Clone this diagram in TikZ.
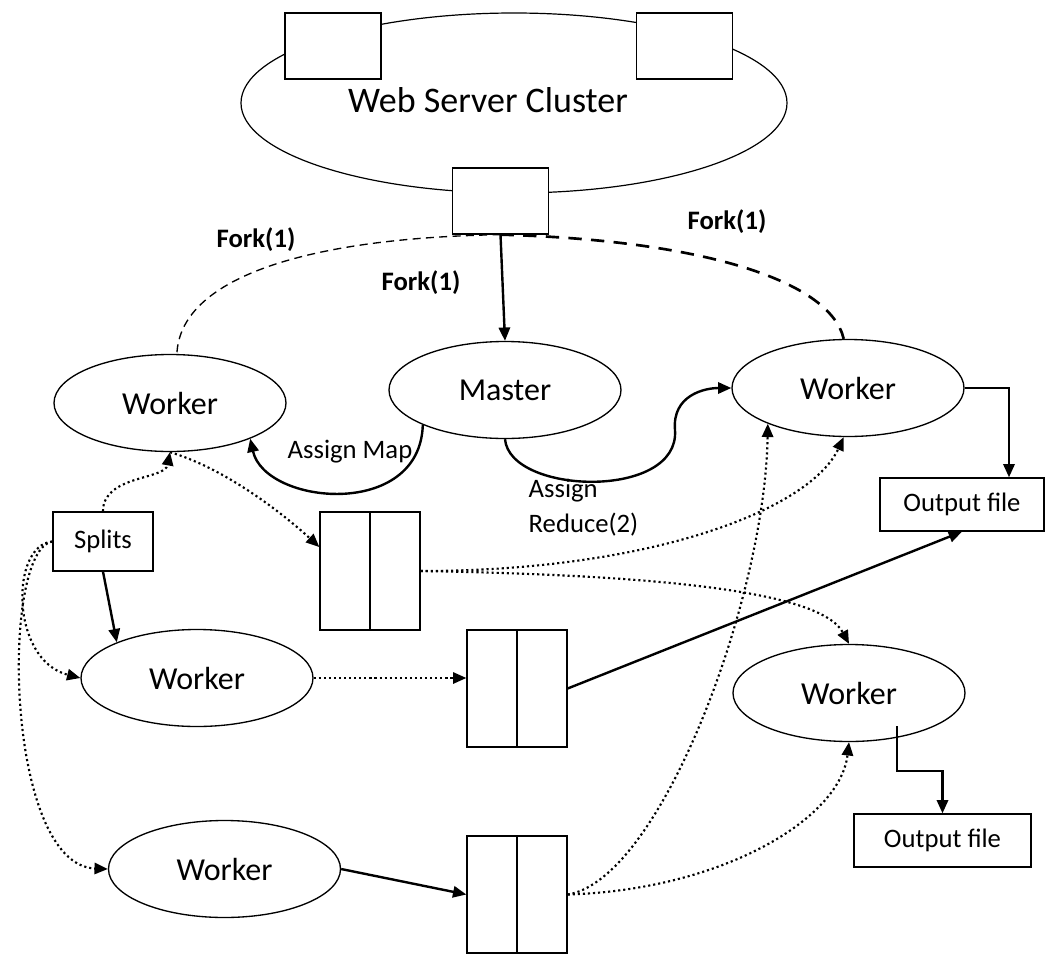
\documentclass[tikz,border=0pt]{standalone}
\usepackage{fontspec}
\setmainfont{Carlito}
\usetikzlibrary{arrows.meta,calc,shapes.geometric}
\newcommand{\bigfs}{\fontsize{27}{32}\selectfont}
\newcommand{\midfs}{\fontsize{24}{29}\selectfont}
\newcommand{\smallfs}{\fontsize{20}{26}\selectfont}
\tikzset{
  proc/.style={draw, ellipse, line width=1pt, minimum width=174pt, minimum height=72.75pt, inner sep=0pt, font=\midfs},
  srv/.style={draw, fill=white, line width=1pt, minimum width=72pt, minimum height=49.5pt},
  buf/.style={draw, line width=1pt, minimum width=75pt, minimum height=87.75pt},
  filebox/.style={draw, line width=1pt, minimum height=39.75pt, font=\smallfs},
  flow/.style={line width=1.8pt, -{Triangle[length=10pt,width=8.5pt]}},
  data/.style={line width=1.6pt, dash pattern=on 1.6pt off 2.2pt, -{Triangle[length=10pt,width=8.5pt]}},
  forklbl/.style={font=\smallfs\bfseries},
}

\begin{document}
\begin{tikzpicture}[x=0.75pt,y=-0.75pt]
    \useasboundingbox (0,0) rectangle (1047,954);
    \node[draw, ellipse, line width=0.9pt, minimum width=409.5pt, minimum height=135pt] (cluster) at (514,103) {};
    \node[font=\bigfs] (clusterlbl) at (488,100) {Web Server Cluster};
    \node[srv] (srvL) at (333,46) {};
    \node[srv] (srvR) at (684.5,46) {};
    \node[srv] (gate) at (500.5,201) {};

    \node[proc] (wkA) at (170,403) {Worker};
    \node[proc] (master) at (505,390) {Master};
    \node[proc] (wkB) at (848,388) {Worker};
    \node[proc] (wkC) at (197,678) {Worker};
    \node[proc] (wkD) at (849,693) {Worker};
    \node[proc] (wkE) at (224.5,869) {Worker};

    \node[draw, line width=1pt, minimum width=75pt, minimum height=44.25pt, font=\smallfs] (splits) at (103,541.5) {Splits};
    \node[buf, minimum height=88.5pt] (bufA) at (370,571) {};
    \node[buf] (bufB) at (517,688.5) {};
    \node[buf] (bufC) at (517,894.5) {};
    \foreach \b in {bufA,bufB,bufC}
      \draw[line width=1pt] (\b.north) -- (\b.south);
    \node[filebox, minimum width=123pt] (outA) at (962,504.5) {Output file};
    \node[filebox, minimum width=132.75pt] (outB) at (942.5,840.5) {Output file};

    \node[forklbl] (forkL) at (256,240) {Fork(1)};
    \node[forklbl] (forkM) at (421,283) {Fork(1)};
    \node[forklbl] (forkR) at (727,222) {Fork(1)};
    \node[font=\smallfs] (mapLbl) at (350,452) {Assign Map};
    \node[font=\smallfs, align=left, anchor=west] (redLbl) at (524,508) {Assign\\Reduce(2)};

    \draw[flow] (gate.south) -- (master.north);
    \draw[line width=1pt, dash pattern=on 6pt off 4pt] (gate.south) .. controls (300,238) and (180,280) .. (wkA.82);
    \draw[line width=2pt, dash pattern=on 10pt off 7pt] (gate.south) .. controls (700,240) and (830,280) .. (wkB.95);
    \draw[flow] (master.203) .. controls (420,520) and (265,505) .. (wkA.336);
    \draw[flow] (master.south) .. controls (510,495) and (680,500) .. (675,430) .. controls (672,395) and (705,388) .. (wkB.west);
    \draw[flow] (wkB.east) -| ($(outA.north)+(47,0)$);

    \draw[data] (splits.north) .. controls (103,475) and (165,480) .. (wkA.south);
    \draw[data] (wkA.south) .. controls (230,470) and (290,520) .. ([yshift=18pt]bufA.west);
    \draw[flow] (splits.south) -- (wkC.156);
    \draw[data] (splits.west) .. controls (10,545) and (10,660) .. (wkC.west);
    \draw[data] (splits.west) .. controls (0,550) and (5,865) .. (wkE.west);
    \draw[data] (wkC.east) -- (wkC.east -| bufB.west);
    \draw[data] (bufA.east) .. controls (650,571) and (810,510) .. (wkB.265);
    \draw[data] (bufA.east) .. controls (650,575) and (820,590) .. (wkD.north);
    \draw[flow] (bufB.east) -- (outA.south);
    \draw[flow] (wkE.east) -- (bufC.west);
    \draw[data] (bufC.east) .. controls (660,880) and (765,600) .. (wkB.204);
    \draw[data] (bufC.east) .. controls (720,890) and (840,820) .. (wkD.south);
    \draw[flow] ($(wkD.center)+(48,33)$) -- ++(0,45) -| (outB.north);
\end{tikzpicture}
\end{document}
